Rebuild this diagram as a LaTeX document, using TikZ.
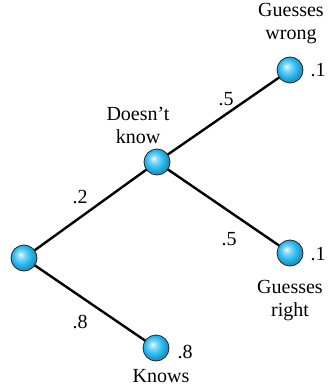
\documentclass[tikz,border=0pt]{standalone}
\usepackage{fontspec}
\setmainfont{Liberation Serif}
\definecolor{ballc}{RGB}{40,185,240}
\pgfdeclareradialshading{myball}{\pgfqpoint{-7bp}{7bp}}{color(0bp)=(ballc!8!white); color(7bp)=(ballc!55!white); color(17bp)=(ballc); color(25bp)=(ballc!80!black); color(50bp)=(ballc!80!black)}
\tikzset{
  ball/.style={circle, minimum size=26pt, inner sep=0pt, draw=black!85, line width=0.8pt, shading=myball},
  edge/.style={line width=2.4pt, black},
  lbl/.style={inner sep=0pt, font=\fontsize{20}{23}\selectfont, align=center}
}
\begin{document}
\begin{tikzpicture}[x=1pt,y=-1pt]
\useasboundingbox (0,0) rectangle (327,387);
\coordinate (proot) at (24,258);
\coordinate (pdk) at (157,162);
\coordinate (pgw) at (290,70);
\coordinate (pgr) at (290,253);
\coordinate (pkn) at (156,348);
\draw[edge] (proot) -- (pdk);
\draw[edge] (proot) -- (pkn);
\draw[edge] (pdk) -- (pgw);
\draw[edge] (pdk) -- (pgr);
\node[ball] (root) at (proot) {};
\node[ball] (dk) at (pdk) {};
\node[ball] (gw) at (pgw) {};
\node[ball] (gr) at (pgr) {};
\node[ball] (kn) at (pkn) {};
\node[lbl] (tgw) at (291,24) {Guesses\\wrong};
\node[lbl] (tdk) at (138,125) {Doesn’t\\know};
\node[lbl] (tgr) at (290,301) {Guesses\\right};
\node[lbl] (tkn) at (161,376) {Knows};
\node[lbl] (p2) at (80,197) {.2};
\node[lbl] (p5a) at (226,99) {.5};
\node[lbl] (p5b) at (229,239) {.5};
\node[lbl] (p8a) at (80,322) {.8};
\node[lbl] (p1a) at (318,70) {.1};
\node[lbl] (p1b) at (318,254) {.1};
\node[lbl] (p8b) at (185,352) {.8};
\end{tikzpicture}
\end{document}
